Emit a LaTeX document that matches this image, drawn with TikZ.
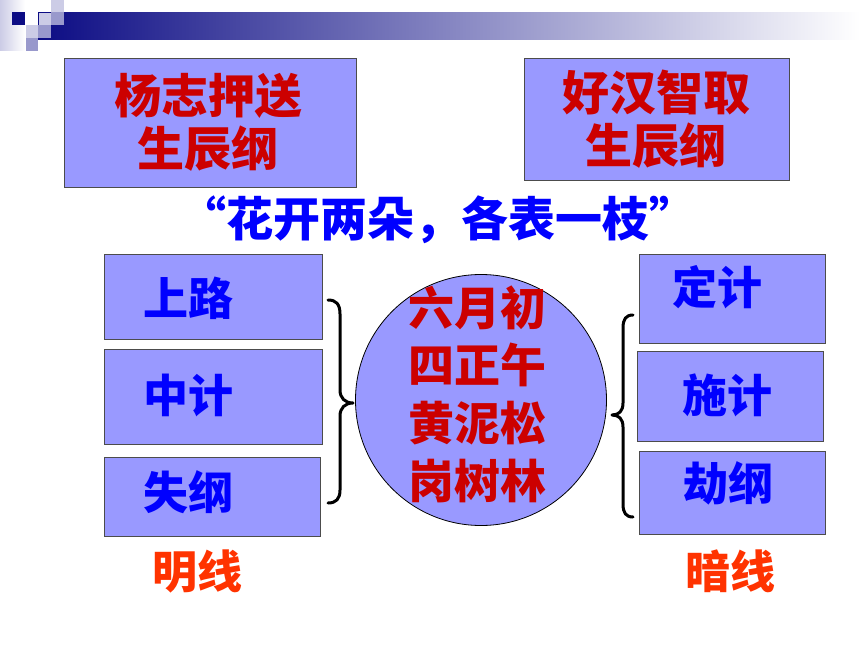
\documentclass[tikz,border=0pt]{standalone}
\usepackage{fontspec}
\newfontfamily\cjk{Noto Sans CJK SC}
\definecolor{navy}{HTML}{0C0C84}
\definecolor{lav}{HTML}{CCCCE6}
\definecolor{medlav}{HTML}{9999CC}
\definecolor{boxblue}{HTML}{9999FF}
\definecolor{darkred}{HTML}{CC0000}
\definecolor{txtblue}{HTML}{0000FF}
\definecolor{orangered}{HTML}{FF3300}
\begin{document}
\begin{tikzpicture}[x=1pt,y=-1pt,
  box/.style={draw=black!70, line width=0.8pt, fill=boxblue, inner sep=0pt},
  title/.style={font=\cjk\bfseries\fontsize{47}{53}\selectfont, text=darkred, align=center, inner sep=0pt},
  item/.style={font=\cjk\bfseries\fontsize{45}{50}\selectfont, text=txtblue, inner sep=0pt},
  line/.style={font=\cjk\bfseries\fontsize{45}{50}\selectfont, text=orangered, inner sep=0pt},
  bracestyle/.style={draw=black, line width=3pt, line cap=round, line join=round}]
\useasboundingbox (0,0) rectangle (860,645);
\fill[white] (0,0) rectangle (860,645);
% header decoration
\shade[left color=lav, right color=white] (0,0) rectangle (25,50);
\shade[left color=navy, right color=white] (38,12) rectangle (860,39);
\fill[navy] (12,12) rectangle (25,25);
\fill[lav] (51,0) rectangle (64,12);
\filldraw[fill=lav, draw=navy, line width=0.6pt] (38,12) rectangle (51,25);
\fill[medlav] (51,12) rectangle (64,25);
\fill[lav] (26,25) rectangle (38,38);
\fill[medlav] (38,25) rectangle (51,38);
\fill[medlav] (26,38) rectangle (38,51);
% top boxes
\node[box, minimum width=292pt, minimum height=129pt] (tl) at (210,122.5) {};
\node[title] (tltext) at (208,122) {杨志押送\\生辰纲};
\node[box, minimum width=265pt, minimum height=122pt] (tr) at (656.5,119) {};
\node[title] (trtext) at (656,119) {好汉智取\\生辰纲};
% quote line
\node[font=\cjk\bfseries\fontsize{47}{50}\selectfont, text=txtblue, inner sep=0pt] (quote) at (438,220) {“花开两朵，各表一枝”};
% left boxes
\node[box, minimum width=218pt, minimum height=85pt] (l1) at (213,296.5) {};
\node[box, minimum width=218pt, minimum height=95pt] (l2) at (213,396.5) {};
\node[box, minimum width=216pt, minimum height=79pt] (l3) at (212,496.5) {};
\node[item] (l1t) at (188,298) {上路};
\node[item] (l2t) at (188,395) {中计};
\node[item] (l3t) at (188,492) {失纲};
\node[line] (ml) at (197,571) {明线};
% right boxes
\node[box, minimum width=186pt, minimum height=89pt] (r1) at (732,298.5) {};
\node[box, minimum width=186pt, minimum height=90pt] (r2) at (730,396) {};
\node[box, minimum width=186pt, minimum height=83pt] (r3) at (732,492.5) {};
\node[item] (r1t) at (717,287) {定计};
\node[item] (r2t) at (727,395) {施计};
\node[item] (r3t) at (728,483) {劫纲};
\node[line] (al) at (730,571) {暗线};
% circle
\node[circle, draw=black, line width=0.8pt, fill=boxblue, minimum size=251pt, inner sep=0pt] (c) at (481,400) {};
\node[font=\cjk\bfseries\fontsize{46}{57.7}\selectfont, text=darkred, align=center, inner sep=0pt] (ct) at (477,394) {六月初\\四正午\\黄泥松\\岗树林};
% braces
\draw[bracestyle] (328,300) .. controls (336,300) and (340,304) .. (340,314)
  -- (340,390) .. controls (340,398) and (345,403) .. (353,403)
  .. controls (345,403) and (340,408) .. (340,416)
  -- (340,490) .. controls (340,499) and (336,503) .. (328,503);
\draw[bracestyle] (633,315) .. controls (626,315) and (623,319) .. (623,328)
  -- (623,403) .. controls (623,411) and (619,415) .. (612,415)
  .. controls (619,415) and (623,419) .. (623,427)
  -- (623,504) .. controls (623,513) and (626,517) .. (633,517);
\end{tikzpicture}
\end{document}
